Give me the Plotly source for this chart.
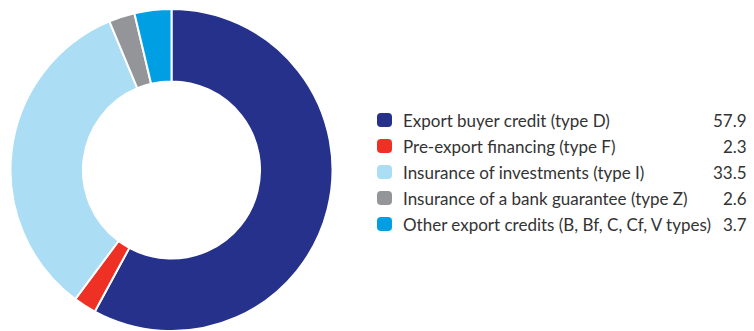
import plotly.graph_objects as go

# Export credit structure by product type (share, %)
categories = [
    "Export buyer credit (type D)",
    "Pre-export financing (type F)",
    "Insurance of investments (type I)",
    "Insurance of a bank guarantee (type Z)",
    "Other export credits (B, Bf, C, Cf, V types)",
]
shares = [57.9, 2.3, 33.5, 2.6, 3.7]
share_labels = ["57.9", "2.3", "33.5", "2.6", "3.7"]
colors = ["#25318A", "#EE3124", "#ABDDF5", "#939598", "#009FE3"]

W, H = 754, 331


def px_x(x):
    return x / W


def px_y(y):
    return 1 - y / H


fig = go.Figure()
fig.add_trace(go.Pie(
    labels=categories,
    values=shares,
    marker=dict(colors=colors, line=dict(color="white", width=2)),
    hole=0.55,
    sort=False,
    direction="clockwise",
    rotation=0,
    textinfo="none",
    hoverinfo="label+value",
    showlegend=False,
    domain=dict(x=[px_x(10), px_x(333)], y=[px_y(331), px_y(9)]),
))

# Hand-built legend: rounded swatch, label and value per row
font = dict(family="Lato, 'Noto Sans', sans-serif", size=17, color="#333333")
row_y0, row_step = 120, 26
sw, sh, r = 15, 14, 4
for i, (cat, lab, col) in enumerate(zip(categories, share_labels, colors)):
    yc = row_y0 + i * row_step
    x0, x1 = 377, 377 + sw
    y0, y1 = yc - sh / 2, yc + sh / 2
    path = (
        f"M {px_x(x0 + r)} {px_y(y0)} L {px_x(x1 - r)} {px_y(y0)} "
        f"Q {px_x(x1)} {px_y(y0)} {px_x(x1)} {px_y(y0 + r)} "
        f"L {px_x(x1)} {px_y(y1 - r)} Q {px_x(x1)} {px_y(y1)} {px_x(x1 - r)} {px_y(y1)} "
        f"L {px_x(x0 + r)} {px_y(y1)} Q {px_x(x0)} {px_y(y1)} {px_x(x0)} {px_y(y1 - r)} "
        f"L {px_x(x0)} {px_y(y0 + r)} Q {px_x(x0)} {px_y(y0)} {px_x(x0 + r)} {px_y(y0)} Z"
    )
    fig.add_shape(type="path", path=path, xref="paper", yref="paper",
                  fillcolor=col, line=dict(width=0))
    fig.add_annotation(x=px_x(401), y=px_y(yc), xref="paper", yref="paper",
                       text=cat, showarrow=False, xanchor="left", yanchor="middle",
                       font=font)
    fig.add_annotation(x=px_x(749), y=px_y(yc), xref="paper", yref="paper",
                       text=lab, showarrow=False, xanchor="right", yanchor="middle",
                       font=font)

fig.update_layout(
    width=W, height=H,
    margin=dict(l=0, r=0, t=0, b=0),
    paper_bgcolor="white",
    plot_bgcolor="white",
)

fig.write_html("out.html")
